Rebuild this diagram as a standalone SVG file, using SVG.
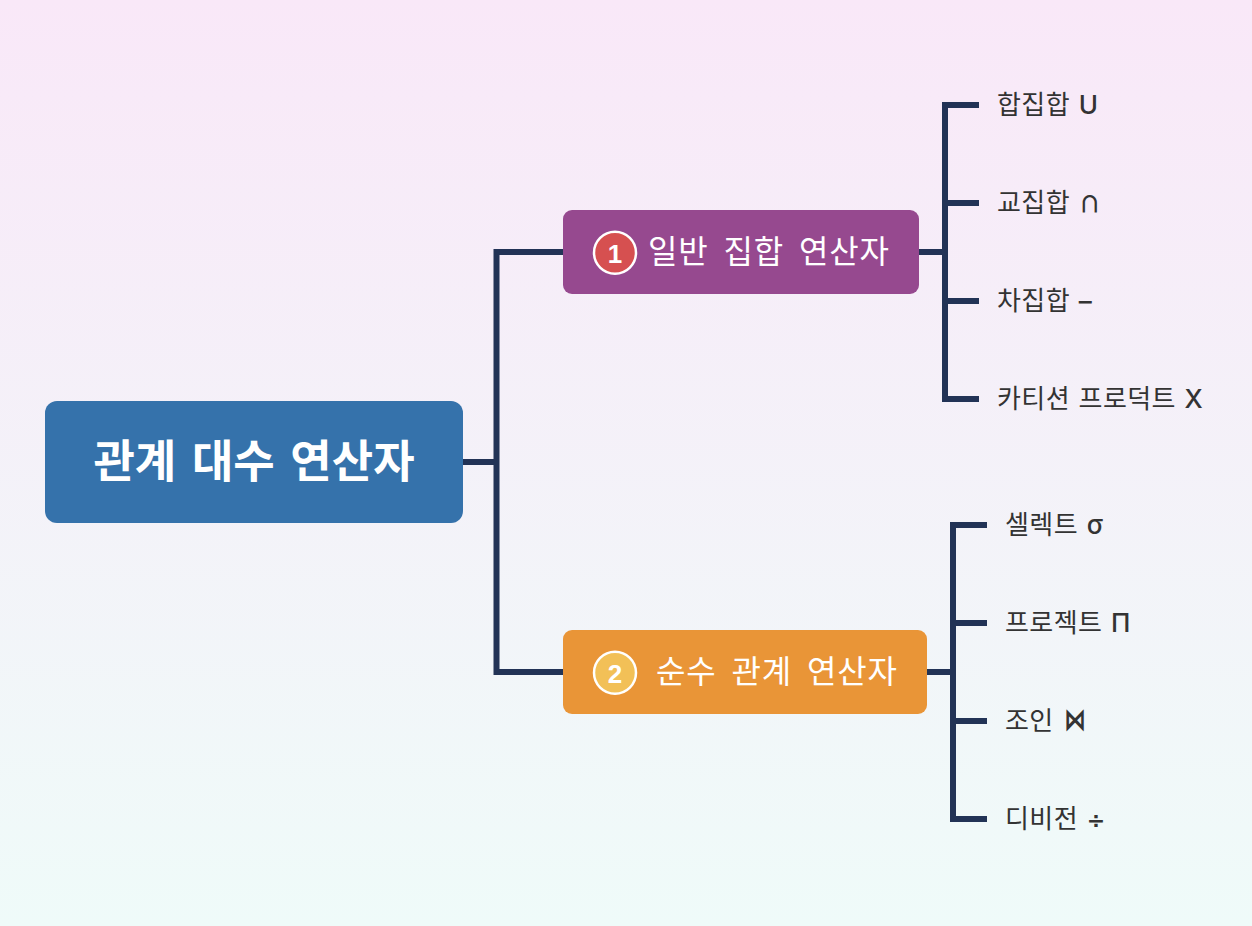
<svg xmlns="http://www.w3.org/2000/svg" width="1252" height="926" viewBox="0 0 1252 926">
<style>
text{font-family:"DejaVu Sans","Noto Sans CJK KR",sans-serif}
.c{fill:none;stroke:#223356;stroke-width:6}
.l{font-size:26px;fill:#333333;letter-spacing:.4px}
.s{font-family:"Inter","Noto Sans","DejaVu Sans",sans-serif;font-weight:500}
.d{font-family:"DejaVu Sans",sans-serif;font-weight:700}
.k{font-family:"Noto Sans CJK KR",sans-serif;font-weight:700}
.b{font-size:32px;fill:#ffffff;letter-spacing:.8px;word-spacing:4px}
.n{font-family:"Liberation Sans",sans-serif;font-size:26px;font-weight:700;fill:#fff;text-anchor:middle}
.r{stroke:#fff;stroke-width:2.5}
</style>
<defs><linearGradient id="bg" x1="0" y1="0" x2="0" y2="1"><stop offset="0" stop-color="#f9e8f8"/><stop offset="1" stop-color="#effbf9"/></linearGradient></defs>
<rect width="1252" height="926" fill="url(#bg)"/>
<g id="connectors">
<path class="c" d="M463 462H497M564 252H496.500V672H564"/>
<path class="c" d="M919 252H948M979 105H945V399H979M945 203H979M945 301H979"/>
<path class="c" d="M927 672H956M987 525H953V819H987M953 623H987M953 721H987"/>
</g>
<g id="root"><rect x="45" y="401" width="418" height="122" rx="12" fill="#3572ab"/><text x="254" y="478" font-size="45" font-weight="700" fill="#fff" text-anchor="middle">관계 대수 연산자</text></g>
<g id="n1"><rect x="563" y="210" width="356" height="84" rx="9" fill="#96498f"/><circle class="r" cx="615" cy="252.700" r="21" fill="#d65050"/><text class="n" x="615" y="263">1</text><text class="b" x="648" y="263">일반 집합 연산자</text></g>
<g id="n2"><rect x="563" y="630" width="364" height="84" rx="9" fill="#e99537"/><circle class="r" cx="615" cy="672.700" r="21" fill="#f2c057"/><text class="n" x="615" y="683">2</text><text class="b" x="656" y="683">순수 관계 연산자</text></g>
<g id="l1"><text class="l" x="997" y="114">합집합 <tspan class="s">U</tspan></text></g>
<g id="l2"><text class="l" x="997" y="212">교집합 <tspan class="k" font-size="22">∩</tspan></text></g>
<g id="l3"><text class="l" x="997" y="310">차집합 <tspan class="s">–</tspan></text></g>
<g id="l4"><text class="l" x="997" y="408">카티션 프로덕트 <tspan class="s">X</tspan></text></g>
<g id="l5"><text class="l" x="1005" y="534">셀렉트 <tspan class="s" font-weight="700">σ</tspan></text></g>
<g id="l6"><text class="l" x="1005" y="632">프로젝트 <tspan class="s">Π</tspan></text></g>
<g id="l7"><text class="l" x="1005" y="730">조인</text><text class="d" font-size="22" fill="#333333" transform="translate(1064 730) scale(1 1.4)">⋈</text></g>
<g id="l8"><text class="l" x="1005" y="828">디비전 <tspan class="d" font-size="22">÷</tspan></text></g>
</svg>
